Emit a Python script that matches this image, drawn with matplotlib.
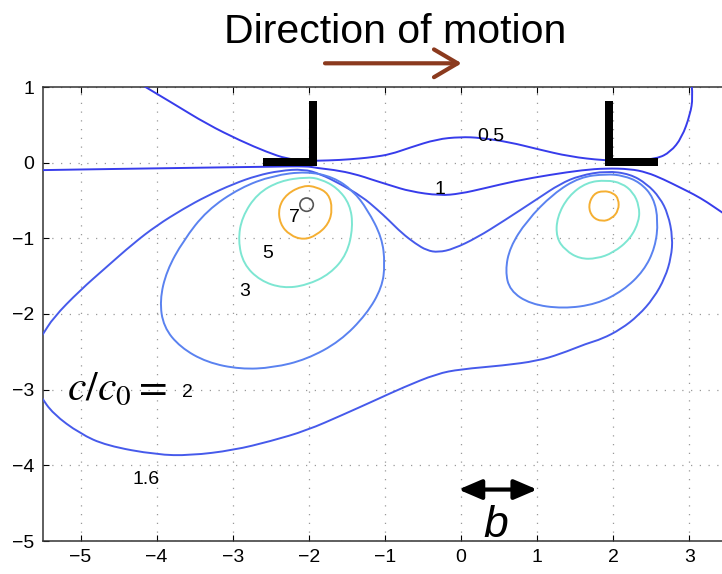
import matplotlib
matplotlib.use("Agg")
import matplotlib.pyplot as plt
from matplotlib.patches import Rectangle, Circle, PathPatch
from matplotlib.path import Path

plt.rcParams['font.family'] = ['Liberation Sans', 'DejaVu Sans']
plt.rcParams['mathtext.fontset'] = 'stix'

# iso-concentration lines c/c0, traced as (x, y) point lists
c05_x = [-4.18, -3.78, -3.34, -2.90, -2.55, -2.29, -2.03, -1.90, -1.59, -1.33, -1.15, -0.93, -0.67,
         -0.32, -0.01, 0.25, 0.64, 1.00, 1.43, 1.87, 2.20, 2.57, 2.75, 2.90, 3.01, 3.045, 3.03]
c05_y = [1.02, 0.78, 0.51, 0.29, 0.14, 0.05, 0.025, 0.025, 0.035, 0.055, 0.075, 0.11, 0.20,
         0.31, 0.34, 0.33, 0.27, 0.18, 0.08, 0.03, 0.02, 0.05, 0.14, 0.33, 0.64, 0.86, 1.02]

c1_x = [-5.6, -5.0, -4.0, -3.0, -2.47, -2.03, -1.90, -1.59, -1.33, -1.20, -0.93, -0.67, -0.28,
        -0.01, 0.30, 0.72, 1.17, 1.60, 1.90, 2.22, 2.44, 2.66, 2.88, 3.06, 3.23, 3.43, 3.6]
c1_y = [-0.10, -0.09, -0.075, -0.06, -0.053, -0.045, -0.07, -0.106, -0.17, -0.215, -0.30, -0.38, -0.435,
        -0.41, -0.34, -0.24, -0.16, -0.097, -0.075, -0.083, -0.128, -0.22, -0.33, -0.42, -0.52, -0.66, -0.77]

c2_x = [-5.6, -5.50, -5.36, -5.01, -4.66, -4.31, -4.00, -3.65, -3.34, -2.99, -2.68, -2.38, -2.07,
        -1.85, -1.59, -1.30, -1.10, -0.95, -0.78, -0.60, -0.45, -0.30, -0.10, 0.21, 0.56, 1.00,
        1.30, 1.56, 1.91, 2.22, 2.44, 2.61, 2.72, 2.78, 2.76, 2.68, 2.53, 2.33, 2.10, 1.85, 1.65,
        1.30, 1.00, 0.56, -0.01, -0.32, -0.76, -1.13, -1.55, -2.03, -2.50, -2.99, -3.56, -4.00,
        -4.66, -5.01, -5.36, -5.53, -5.6]
c2_y = [-2.42, -2.28, -2.05, -1.69, -1.38, -1.07, -0.83, -0.61, -0.44, -0.28, -0.17, -0.106, -0.085,
        -0.15, -0.28, -0.45, -0.62, -0.76, -0.93, -1.07, -1.16, -1.185, -1.14, -0.99, -0.77, -0.48,
        -0.28, -0.17, -0.11, -0.15, -0.28, -0.46, -0.68, -0.99, -1.25, -1.52, -1.79, -2.02, -2.20,
        -2.33, -2.39, -2.53, -2.62, -2.68, -2.73, -2.79, -2.97, -3.14, -3.33, -3.54, -3.68, -3.80,
        -3.87, -3.86, -3.74, -3.58, -3.32, -3.08, -2.96]

c3_left_x = [-2.03, -2.47, -2.90, -3.34, -3.65, -3.87, -3.96, -3.91, -3.69, -3.34, -2.90, -2.47,
             -2.03, -1.59, -1.24, -1.04, -1.00, -1.04, -1.23, -1.42, -1.68]
c3_left_y = [-0.115, -0.17, -0.33, -0.63, -1.03, -1.43, -1.82, -2.17, -2.44, -2.64, -2.73, -2.71,
             -2.60, -2.36, -2.00, -1.65, -1.34, -0.99, -0.62, -0.37, -0.19]
c3_right_x = [1.91, 1.56, 1.21, 0.86, 0.64, 0.58, 0.64, 0.91, 1.34, 1.78, 2.13, 2.40, 2.55, 2.59,
              2.53, 2.35, 2.13]
c3_right_y = [-0.15, -0.19, -0.41, -0.77, -1.12, -1.43, -1.69, -1.87, -1.93, -1.87, -1.69, -1.43,
              -1.12, -0.77, -0.46, -0.26, -0.17]

c5_left_x = [-2.03, -2.38, -2.68, -2.88, -2.93, -2.86, -2.64, -2.34, -2.03, -1.72, -1.50, -1.42,
             -1.46, -1.63, -1.85]
c5_left_y = [-0.19, -0.24, -0.41, -0.72, -1.03, -1.34, -1.56, -1.66, -1.62, -1.47, -1.21, -0.85,
             -0.55, -0.33, -0.215]
c5_right_x = [1.91, 1.65, 1.41, 1.26, 1.25, 1.37, 1.56, 1.78, 2.00, 2.22, 2.34, 2.34, 2.26, 2.11]
c5_right_y = [-0.23, -0.26, -0.44, -0.72, -0.99, -1.16, -1.27, -1.27, -1.19, -1.01, -0.77, -0.57,
              -0.39, -0.27]

c7_left_x = [-2.07, -2.29, -2.40, -2.38, -2.25, -2.07, -1.90, -1.74, -1.69, -1.74, -1.90]
c7_left_y = [-0.30, -0.41, -0.59, -0.81, -0.96, -1.02, -0.96, -0.81, -0.61, -0.41, -0.32]
c7_right_x = [1.87, 1.74, 1.67, 1.72, 1.85, 1.98, 2.07, 2.07, 2.00]
c7_right_y = [-0.37, -0.41, -0.57, -0.72, -0.78, -0.74, -0.63, -0.48, -0.40]

# contour labels: (text, x, y)
labels = [('0.5', 0.39, 0.35), ('1', -0.28, -0.36), ('7', -2.19, -0.73), ('5', -2.54, -1.20),
          ('3', -2.84, -1.70), ('2', -3.59, -3.04), ('1.6', -4.14, -4.19)]

# L-shaped plates: (x0, y0, width, height) for each bar
plates = [(-1.997, -0.04, 0.105, 0.85), (-2.60, -0.04, 0.708, 0.097),
          (1.892, -0.04, 0.105, 0.85), (1.892, -0.04, 0.698, 0.097)]

# sensor marker
sensor = (-2.03, -0.555, 0.088)

# (x, y, colour, closed)
lines = [
    (c05_x, c05_y, '#373ceb', False),
    (c1_x, c1_y, '#373ceb', False),
    (c2_x, c2_y, '#465aeb', False),
    (c3_left_x, c3_left_y, '#5a82f0', True),
    (c3_right_x, c3_right_y, '#5a82f0', True),
    (c5_left_x, c5_left_y, '#7de6d2', True),
    (c5_right_x, c5_right_y, '#7de6d2', True),
    (c7_left_x, c7_left_y, '#f5af32', True),
    (c7_right_x, c7_right_y, '#f5af32', True),
]


def smooth_path(xs, ys, closed):
    # quadratic bezier through midpoints, traced points as control points
    pts = list(zip(xs, ys))
    mid = lambda a, b: ((a[0] + b[0]) / 2, (a[1] + b[1]) / 2)
    if closed:
        n = len(pts)
        verts = [mid(pts[-1], pts[0])]
        codes = [Path.MOVETO]
        for i in range(n):
            verts += [pts[i], mid(pts[i], pts[(i + 1) % n])]
            codes += [Path.CURVE3, Path.CURVE3]
    else:
        verts = [pts[0]]
        codes = [Path.MOVETO]
        for i in range(1, len(pts) - 1):
            end = pts[-1] if i == len(pts) - 2 else mid(pts[i], pts[i + 1])
            verts += [pts[i], end]
            codes += [Path.CURVE3, Path.CURVE3]
    return Path(verts, codes)


fig = plt.figure(figsize=(7.22, 5.74), dpi=100)
ax = fig.add_axes([42.5 / 722, 33 / 574, 685 / 722, 454 / 574])

for xs, ys, col, closed in lines:
    ax.add_patch(PathPatch(smooth_path(xs, ys, closed), facecolor='none', edgecolor=col,
                           lw=1.4, zorder=3))

for x0, y0, w, h in plates:
    ax.add_patch(Rectangle((x0, y0), w, h, facecolor='black', edgecolor='none', zorder=5))

ax.add_patch(Circle(sensor[:2], sensor[2], facecolor='none', edgecolor='#555555', lw=1.2, zorder=4))

for txt, x, y in labels:
    ax.text(x, y, txt, fontsize=14, ha='center', va='center', zorder=6)

ax.text(-5.18, -3.14, r'$c/c_0 =$', fontsize=30, ha='left', va='baseline', zorder=6)

# scale bar b
ax.annotate('', xy=(1.0, -4.32), xytext=(-0.035, -4.32),
            arrowprops=dict(arrowstyle='<|-|>,head_length=0.7,head_width=0.3', lw=3,
                            color='black', mutation_scale=20, shrinkA=0, shrinkB=0), zorder=6)
ax.text(0.45, -4.95, 'b', fontsize=32, style='italic', ha='center', va='baseline', zorder=6)

ax.set_xlim(-5.5, 3.5)
ax.set_ylim(-5, 1)
ax.set_xticks(range(-5, 4))
ax.set_yticks(range(-5, 2))
ax.grid(True, linestyle=(0, (1, 6)), color='#999999', lw=0.9, zorder=0)
ax.tick_params(direction='in', top=True, right=True, length=4, width=0.8, labelsize=14, pad=6)
for sp in ax.spines.values():
    sp.set_color('#333333')
    sp.set_linewidth(1.1)

fig.text(395 / 722, 1 - 43 / 574, 'Direction of motion', fontsize=29.5, ha='center', va='baseline')
ax.annotate('', xy=(461.7, 574 - 63.3), xytext=(325, 574 - 63.3), xycoords='figure pixels',
            textcoords='figure pixels',
            arrowprops=dict(arrowstyle='->,head_length=0.85,head_width=0.5', lw=3,
                            color='#8b3a1e', mutation_scale=20, shrinkA=0, shrinkB=0))

fig.savefig('out.png', dpi=100)
